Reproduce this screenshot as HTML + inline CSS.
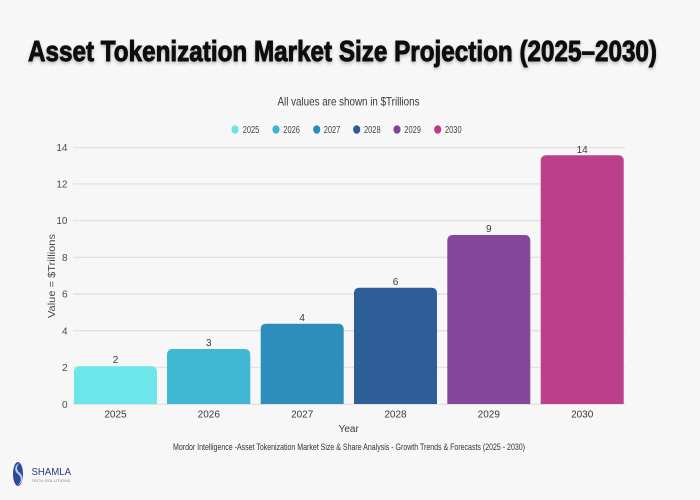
<!DOCTYPE html>
<html><head><meta charset="utf-8">
<style>
html,body{margin:0;padding:0;background:#f8f7f8;}
svg{display:block;}
text{font-family:"Liberation Sans",sans-serif;}
</style></head>
<body>
<svg width="700" height="500" viewBox="0 0 700 500" xmlns="http://www.w3.org/2000/svg">
<defs>
<filter id="sh" x="-5%" y="-30%" width="110%" height="160%">
<feDropShadow dx="0" dy="2" stdDeviation="1.5" flood-color="#000" flood-opacity="0.25"/>
</filter>
</defs>
<rect width="700" height="500" fill="#f8f7f8"/>
<text x="28" y="61" font-size="29" font-weight="bold" fill="#0a0a0a" stroke="#0a0a0a" stroke-width="0.9" textLength="629" lengthAdjust="spacingAndGlyphs" filter="url(#sh)">Asset Tokenization Market Size Projection (2025–2030)</text>
<text x="348.5" y="105.5" font-size="12" fill="#3a3a3a" text-anchor="middle" textLength="142" lengthAdjust="spacingAndGlyphs">All values are shown in $Trillions</text>
<!-- legend -->
<g font-size="10" fill="#444">
<ellipse cx="235" cy="129.5" rx="3.6" ry="4.3" fill="#6fe3e8"/><text x="242.7" y="133" textLength="16.6" lengthAdjust="spacingAndGlyphs">2025</text>
<ellipse cx="276" cy="129.5" rx="3.6" ry="4.3" fill="#41b4d2"/><text x="283.3" y="133" textLength="16.6" lengthAdjust="spacingAndGlyphs">2026</text>
<ellipse cx="316.7" cy="129.5" rx="3.6" ry="4.3" fill="#2b8bba"/><text x="323.7" y="133" textLength="16.6" lengthAdjust="spacingAndGlyphs">2027</text>
<ellipse cx="356.7" cy="129.5" rx="3.6" ry="4.3" fill="#2c5b96"/><text x="364" y="133" textLength="16.6" lengthAdjust="spacingAndGlyphs">2028</text>
<ellipse cx="397" cy="129.5" rx="3.6" ry="4.3" fill="#7f459b"/><text x="404.3" y="133" textLength="16.6" lengthAdjust="spacingAndGlyphs">2029</text>
<ellipse cx="437.7" cy="129.5" rx="3.6" ry="4.3" fill="#bd3a8c"/><text x="445" y="133" textLength="16.6" lengthAdjust="spacingAndGlyphs">2030</text>
</g>
<!-- gridlines -->
<g stroke="#e3e1e2" stroke-width="1.4">
<line x1="73" y1="147.6" x2="625" y2="147.6"/>
<line x1="73" y1="183.9" x2="625" y2="183.9"/>
<line x1="73" y1="220.6" x2="625" y2="220.6"/>
<line x1="73" y1="257.3" x2="625" y2="257.3"/>
<line x1="73" y1="294" x2="625" y2="294"/>
<line x1="73" y1="330.7" x2="625" y2="330.7"/>
<line x1="73" y1="367.4" x2="625" y2="367.4"/>
<line x1="73" y1="404.3" x2="625" y2="404.3"/>
</g>
<!-- y tick labels -->
<g font-size="10" fill="#4a4a4a" text-anchor="end">
<text x="67.5" y="151">14</text>
<text x="67.5" y="187.5">12</text>
<text x="67.5" y="224.2">10</text>
<text x="67.5" y="260.9">8</text>
<text x="67.5" y="297.6">6</text>
<text x="67.5" y="334.3">4</text>
<text x="67.5" y="371">2</text>
<text x="67.5" y="407.8">0</text>
</g>
<text transform="translate(55,276) rotate(-90)" font-size="10" fill="#4a4a4a" text-anchor="middle" textLength="84" lengthAdjust="spacingAndGlyphs">Value = $Trillions</text>
<!-- bars -->
<path d="M74,404 V371.3 a5,5 0 0 1 5,-5 H152 a5,5 0 0 1 5,5 V404 Z" fill="#6de6e9"/>
<path d="M167,404 V354 a5,5 0 0 1 5,-5 H245.3 a5,5 0 0 1 5,5 V404 Z" fill="#40b8d4"/>
<path d="M260.7,404 V328.7 a5,5 0 0 1 5,-5 H338.7 a5,5 0 0 1 5,5 V404 Z" fill="#2d8dbb"/>
<path d="M354,404 V292.7 a5,5 0 0 1 5,-5 H432 a5,5 0 0 1 5,5 V404 Z" fill="#2e5e98"/>
<path d="M447.3,404 V240 a5,5 0 0 1 5,-5 H525.3 a5,5 0 0 1 5,5 V404 Z" fill="#85479a"/>
<path d="M540.7,404 V160.3 a5,5 0 0 1 5,-5 H618.7 a5,5 0 0 1 5,5 V404 Z" fill="#bb3f8b"/>
<!-- value labels -->
<g font-size="10" fill="#3a3a3a" text-anchor="middle">
<text x="115.5" y="363.2">2</text>
<text x="208.8" y="345.8">3</text>
<text x="302.2" y="321.2">4</text>
<text x="395.5" y="285.2">6</text>
<text x="488.8" y="231.8">9</text>
<text x="582.2" y="152.8">14</text>
</g>
<!-- x labels -->
<g font-size="10" fill="#3a3a3a" text-anchor="middle">
<text x="115.5" y="417.5">2025</text>
<text x="208.8" y="417.5">2026</text>
<text x="302.2" y="417.5">2027</text>
<text x="395.5" y="417.5">2028</text>
<text x="488.8" y="417.5">2029</text>
<text x="582.2" y="417.5">2030</text>
</g>
<text x="348.7" y="431.8" font-size="10" fill="#3a3a3a" text-anchor="middle">Year</text>
<text x="349" y="450" font-size="9.5" fill="#333" text-anchor="middle" textLength="352" lengthAdjust="spacingAndGlyphs">Mordor Intelligence -Asset Tokenization Market Size &amp; Share Analysis - Growth Trends &amp; Forecasts (2025 - 2030)</text>
<!-- logo -->
<g>
<ellipse cx="18" cy="474" rx="5" ry="12" fill="#2a4a94"/>
<path d="M20,463 C14,465 14,471 18,474 C22,477 22,483 16,486 C23,484 24,477 20,473 C16,470 16,466 20,463 Z" fill="#b8cdf0"/>
<text x="31.5" y="475" font-size="10" fill="#2b3a7a" textLength="39.5" lengthAdjust="spacingAndGlyphs">SHAMLA</text>
<text x="31.5" y="482" font-size="3.5" fill="#7a85a8" textLength="39" lengthAdjust="spacingAndGlyphs">TECH SOLUTIONS</text>
</g>
</svg>
</body></html>
